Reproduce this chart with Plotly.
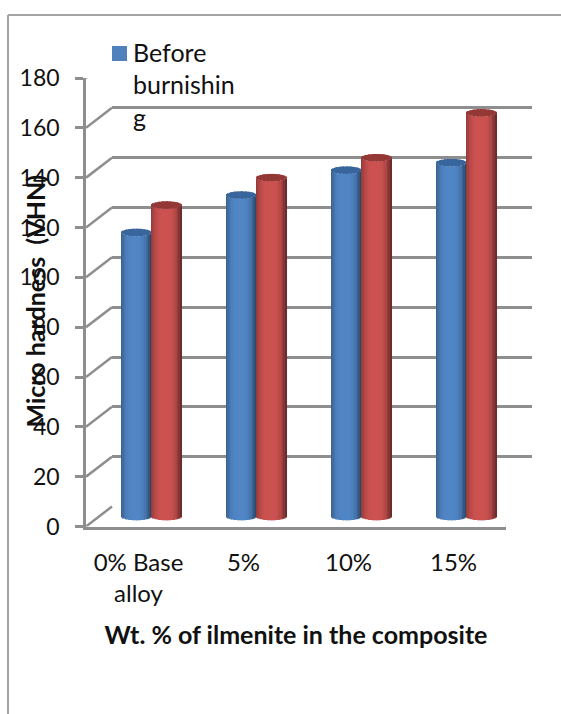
import math
import plotly.graph_objects as go

categories = ["0% Base<br>alloy", "5%", "10%", "15%"]
before_burnishing = [114, 129, 139, 142]
after_burnishing = [125, 136, 144, 162]
y_ticks = [0, 20, 40, 60, 80, 100, 120, 140, 160, 180]
legend_label = "Before<br>burnishin<br>g"
x_title = "Wt. % of ilmenite in the composite"
y_title = "Micro hardness  (VHN)"

W, H = 561, 714
FONT = "Lato"
TEXT = "#111111"
GREY = "#8e8e8e"
BLUE = (80, 134, 198)
RED = (204, 82, 80)
BLUE_CAP = "#38669c"
RED_CAP = "#943836"
STRIPS = 22
CAP = 1.5            # half height of the cylinder ellipse, in axis units
BAR_W = 0.288        # cylinder width, in category units
PX_PER_UNIT = (526.5 - 78) / 180
BELOW = 5            # axis room under zero so the rounded cylinder feet stay visible

FRONT = (86, 506, 526.5, 78)
MID = (99, 519, 516.5 + BELOW * PX_PER_UNIT, 68)
BACK = (112, 532, 507, 57.5)


def dom(box):
    l, r, b, t = box
    return dict(x=[l / W, r / W], y=[1 - b / H, 1 - t / H])


def shade(rgb, t):
    f = 1 - 0.42 * abs(t + 0.08) ** 3.2
    return "rgb(%d,%d,%d)" % tuple(round(c * f) for c in rgb)


fig = go.Figure()


def cylinder(values, name, rgb, cap, centre):
    step = BAR_W / STRIPS
    for i in range(STRIPS):
        t = (i + 0.5) / STRIPS * 2 - 1
        lift = CAP * math.sqrt(max(0, 1 - t * t))
        left = centre - BAR_W / 2 + i * step
        fig.add_bar(
            x=categories, y=values, base=[-lift] * len(values), width=step * 1.2, offset=left,
            marker=dict(color=shade(rgb, t), line_width=0), name=name, showlegend=False,
            hoverinfo="skip" if i != STRIPS // 2 else None, xaxis="x3", yaxis="y3",
        )
        fig.add_bar(
            x=categories, y=[2 * lift] * len(values), base=[v - lift for v in values],
            width=step * 1.2, offset=left, marker=dict(color=cap, line_width=0), name=name,
            showlegend=False, hoverinfo="skip", xaxis="x3", yaxis="y3",
        )


cylinder(before_burnishing, "Before burnishing", BLUE, BLUE_CAP, -BAR_W / 2)
cylinder(after_burnishing, "After burnishing", RED, RED_CAP, BAR_W / 2)

# legend text only: the swatch sits beside the first line, drawn as a shape below
fig.add_scatter(
    x=categories[:1], y=[None], mode="markers", name=legend_label, xaxis="x3", yaxis="y3",
    marker=dict(symbol="square", size=15, color="rgba(0,0,0,0)", line_width=0),
)

cat_range = [-0.5, 3.5]
val_range = [0, 180]
dx = (112 - FRONT[0]) / ((FRONT[1] - FRONT[0]) / 4)
dy = 20 / PX_PER_UNIT

shapes = [
    dict(type="line", xref="x2", yref="y2", x0=-0.5, x1=-0.5 + dx, y0=v, y1=v + dy,
         line=dict(color=GREY, width=2.5), layer="below")
    for v in y_ticks
]
shapes.append(dict(type="line", xref="x2", yref="y2", x0=3.5, x1=3.5 + dx, y0=0, y1=dy,
                   line=dict(color=GREY, width=2.5), layer="below"))
shapes.append(dict(type="line", xref="paper", yref="paper", x0=8 / W, x1=8 / W, y0=0, y1=1 - 15 / H,
                   line=dict(color="#a3a3a3", width=2), layer="below"))
shapes.append(dict(type="line", xref="paper", yref="paper", x0=8 / W, x1=1, y0=1 - 15 / H, y1=1 - 15 / H,
                   line=dict(color="#a3a3a3", width=2), layer="below"))
shapes.append(dict(type="rect", xref="paper", yref="paper", x0=112 / W, x1=127 / W, y0=1 - 61 / H, y1=1 - 46 / H,
                   fillcolor="#4f81bd", line_width=0, layer="above"))

hidden = dict(showgrid=False, zeroline=False, showline=False, showticklabels=False, ticks="", automargin=False)
fig.update_layout(
    width=W, height=H, margin=dict(l=0, r=0, t=0, b=0, pad=0), autosize=False,
    paper_bgcolor="white", plot_bgcolor="rgba(0,0,0,0)", barmode="overlay",
    font=dict(family=FONT, color=TEXT, size=24), shapes=shapes,
    legend=dict(x=93 / W, y=1 - 29 / H, xanchor="left", yanchor="top", bgcolor="rgba(0,0,0,0)",
                font=dict(family=FONT, size=25, color=TEXT), itemsizing="trace", tracegroupgap=0),
    annotations=[dict(text="<b>" + y_title + "</b>", textangle=-90, xref="paper", yref="paper",
                      x=34.5 / W, y=1 - 301 / H, xanchor="center", yanchor="middle", showarrow=False,
                      font=dict(family=FONT, size=25, color=TEXT))],
    # back wall
    xaxis=dict(domain=dom(BACK)["x"], range=cat_range, type="linear", anchor="y", **hidden),
    yaxis=dict(domain=dom(BACK)["y"], range=[-0.2, 180.2], anchor="x", showgrid=True, gridcolor=GREY, gridwidth=2.5,
               tickvals=y_ticks, zeroline=False, showline=False, showticklabels=False, ticks="", automargin=False),
    # front plane: axes, ticks and titles
    xaxis2=dict(domain=dom(FRONT)["x"], range=cat_range, type="category", categoryarray=categories,
                categoryorder="array", anchor="y2", showgrid=False, zeroline=False, showline=True,
                linecolor=GREY, linewidth=2.5, ticks="", tickmode="array", tickvals=categories, ticktext=categories,
                tickfont=dict(family=FONT, size=24, color=TEXT), ticklabelstandoff=13, automargin=False,
                title=dict(text="<b>" + x_title + "</b>", font=dict(family=FONT, size=25, color=TEXT), standoff=21)),
    yaxis2=dict(domain=dom(FRONT)["y"], range=val_range, anchor="x2", showgrid=False, zeroline=False, showline=True,
                linecolor=GREY, linewidth=2.5, ticks="outside", ticklen=8, tickwidth=2.5, tickcolor=GREY,
                tickmode="array", tickvals=y_ticks, tickfont=dict(family=FONT, size=23, color=TEXT),
                ticklabelstandoff=11, automargin=False),
    # bars, mid depth
    xaxis3=dict(domain=dom(MID)["x"], range=cat_range, type="category", categoryarray=categories,
                categoryorder="array", anchor="y3", **hidden),
    yaxis3=dict(domain=dom(MID)["y"], range=[-BELOW, 180], anchor="x3", **hidden),
)
fig.add_scatter(x=categories[:1], y=[None], xaxis="x2", yaxis="y2", showlegend=False, hoverinfo="skip")
fig.add_scatter(x=[0], y=[None], xaxis="x", yaxis="y", showlegend=False, hoverinfo="skip")

fig.write_html("out.html", config=dict(displayModeBar=False),
               post_script="document.body.style.margin='0';document.documentElement.style.overflow='hidden';")
